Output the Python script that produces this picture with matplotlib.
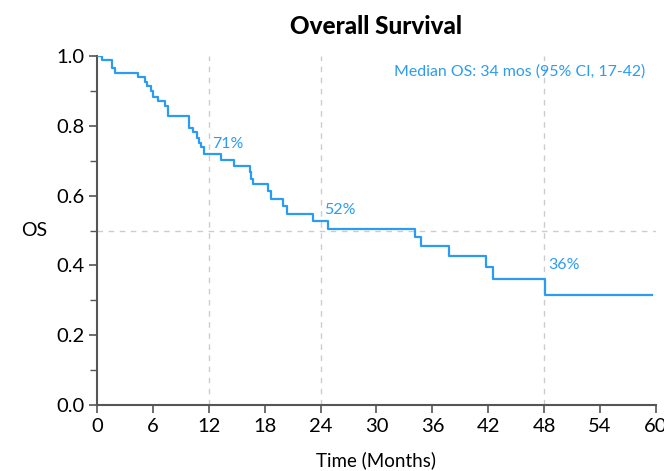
import matplotlib
matplotlib.use("Agg")
import matplotlib.pyplot as plt
from matplotlib.ticker import MultipleLocator

# Kaplan-Meier step values
months = [0, 0.55, 1.65, 1.94, 4.44, 5.16, 5.41, 5.8, 6.06, 6.6, 7.31, 7.67,
          9.9, 10.36, 10.72, 10.97, 11.18, 11.54, 13.3, 14.66, 16.38, 16.56,
          16.74, 18.35, 18.7, 19.96, 20.4, 23.19, 24.8, 34.1, 34.73, 37.77,
          41.8, 42.5, 48.1, 59.6]
survival = [1.0, 0.989, 0.965, 0.952, 0.939, 0.926, 0.913, 0.899, 0.884, 0.87,
            0.857, 0.827, 0.795, 0.781, 0.766, 0.752, 0.738, 0.718, 0.702,
            0.685, 0.669, 0.649, 0.632, 0.613, 0.591, 0.57, 0.548, 0.527,
            0.505, 0.481, 0.455, 0.426, 0.395, 0.362, 0.316, 0.316]

landmarks = [12, 24, 48]
landmark_labels = ["71%", "52%", "36%"]
landmark_label_y = [0.749, 0.56, 0.40]
median_text = "Median OS: 34 mos (95% CI, 17-42)"

blue = "#2b9cf2"
axis_grey = "#555555"

plt.rcParams["font.family"] = ["Lato", "DejaVu Sans"]

fig = plt.figure(figsize=(6.64, 4.71), dpi=100)
ax = fig.add_axes([0.146, 0.140, 0.842, 0.741])

# reference lines
for m in landmarks:
    ax.plot([m, m], [0, 1.0], color="#cccccc", lw=1, ls=(0, (4, 4)), zorder=1)
ax.plot([0, 60], [0.5, 0.5], color="#cccccc", lw=1, ls=(0, (4, 4)), zorder=1)

ax.step(months, survival, where="post", color=blue, lw=1.6, zorder=3)

for m, lab, y in zip(landmarks, landmark_labels, landmark_label_y):
    ax.text(m + 0.4, y, lab, color=blue, fontsize=11.5, ha="left", va="center")

ax.text(58.8, 0.957, median_text, color=blue, fontsize=11.4, ha="right", va="center")

ax.set_xlim(0, 60)
ax.set_ylim(0, 1.0)
ax.xaxis.set_major_locator(MultipleLocator(6))
ax.yaxis.set_major_locator(MultipleLocator(0.2))
ax.yaxis.set_minor_locator(MultipleLocator(0.1))
ax.set_yticklabels([f"{v:.1f}" for v in ax.get_yticks()])

for side in ["top", "right"]:
    ax.spines[side].set_visible(False)
for side in ["left", "bottom"]:
    ax.spines[side].set_color(axis_grey)
    ax.spines[side].set_linewidth(1.5)
ax.tick_params(which="major", length=6, width=1.2, color=axis_grey, labelsize=14.5, pad=3)
ax.tick_params(which="minor", length=5, width=1.0, color=axis_grey)

ax.set_xlabel("Time (Months)", fontsize=13.5, labelpad=12)
ax.set_ylabel("OS", fontsize=14, rotation=0, labelpad=16, va="center")
ax.set_title("Overall Survival", fontsize=17.5, fontweight="black", pad=16)

fig.savefig("out.png", dpi=100)
